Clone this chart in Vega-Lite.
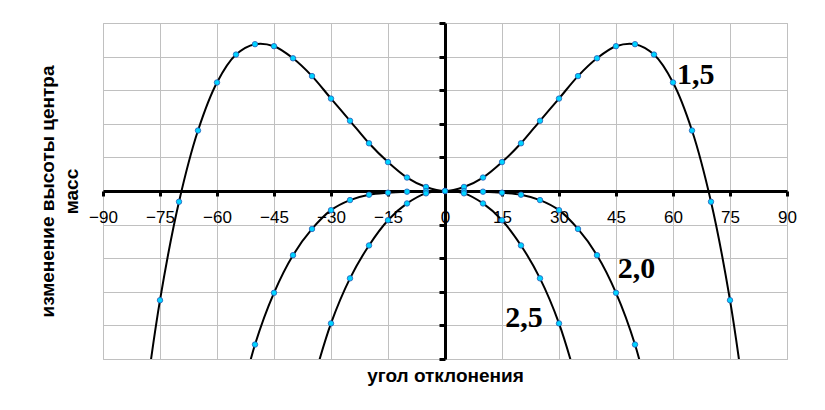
{
  "$schema": "https://vega.github.io/schema/vega-lite/v6.json",
  "width": 684,
  "height": 336,
  "autosize": {"type": "none"},
  "padding": {"left": 103, "top": 23, "right": 38, "bottom": 51},
  "background": "white",
  "config": {
    "view": {"stroke": "#c0c0c0", "strokeWidth": 1},
    "axis": {"gridColor": "#c0c0c0", "gridWidth": 1, "gridOpacity": 1}
  },
  "datasets": {
    "curves": [
      {"angle": -80, "dh": -7.2, "k": "1,5"},
      {"angle": -75, "dh": -3.25, "k": "1,5"},
      {"angle": -70, "dh": -0.32, "k": "1,5"},
      {"angle": -65, "dh": 1.80, "k": "1,5"},
      {"angle": -60, "dh": 3.23, "k": "1,5"},
      {"angle": -55, "dh": 4.06, "k": "1,5"},
      {"angle": -50, "dh": 4.37, "k": "1,5"},
      {"angle": -45, "dh": 4.31, "k": "1,5"},
      {"angle": -40, "dh": 3.95, "k": "1,5"},
      {"angle": -35, "dh": 3.42, "k": "1,5"},
      {"angle": -30, "dh": 2.75, "k": "1,5"},
      {"angle": -25, "dh": 2.09, "k": "1,5"},
      {"angle": -20, "dh": 1.42, "k": "1,5"},
      {"angle": -15, "dh": 0.86, "k": "1,5"},
      {"angle": -10, "dh": 0.40, "k": "1,5"},
      {"angle": -5, "dh": 0.12, "k": "1,5"},
      {"angle": 0, "dh": 0, "k": "1,5"},
      {"angle": 5, "dh": 0.12, "k": "1,5"},
      {"angle": 10, "dh": 0.40, "k": "1,5"},
      {"angle": 15, "dh": 0.86, "k": "1,5"},
      {"angle": 20, "dh": 1.42, "k": "1,5"},
      {"angle": 25, "dh": 2.09, "k": "1,5"},
      {"angle": 30, "dh": 2.75, "k": "1,5"},
      {"angle": 35, "dh": 3.42, "k": "1,5"},
      {"angle": 40, "dh": 3.95, "k": "1,5"},
      {"angle": 45, "dh": 4.31, "k": "1,5"},
      {"angle": 50, "dh": 4.37, "k": "1,5"},
      {"angle": 55, "dh": 4.06, "k": "1,5"},
      {"angle": 60, "dh": 3.23, "k": "1,5"},
      {"angle": 65, "dh": 1.80, "k": "1,5"},
      {"angle": 70, "dh": -0.32, "k": "1,5"},
      {"angle": 75, "dh": -3.25, "k": "1,5"},
      {"angle": 80, "dh": -7.2, "k": "1,5"},
      {"angle": -55, "dh": -6.8, "k": "2,0"},
      {"angle": -50, "dh": -4.57, "k": "2,0"},
      {"angle": -45, "dh": -3.03, "k": "2,0"},
      {"angle": -40, "dh": -1.91, "k": "2,0"},
      {"angle": -35, "dh": -1.13, "k": "2,0"},
      {"angle": -30, "dh": -0.57, "k": "2,0"},
      {"angle": -25, "dh": -0.27, "k": "2,0"},
      {"angle": -20, "dh": -0.11, "k": "2,0"},
      {"angle": -15, "dh": -0.05, "k": "2,0"},
      {"angle": -10, "dh": -0.02, "k": "2,0"},
      {"angle": -5, "dh": -0.005, "k": "2,0"},
      {"angle": 0, "dh": 0, "k": "2,0"},
      {"angle": 5, "dh": -0.005, "k": "2,0"},
      {"angle": 10, "dh": -0.02, "k": "2,0"},
      {"angle": 15, "dh": -0.05, "k": "2,0"},
      {"angle": 20, "dh": -0.11, "k": "2,0"},
      {"angle": 25, "dh": -0.27, "k": "2,0"},
      {"angle": 30, "dh": -0.57, "k": "2,0"},
      {"angle": 35, "dh": -1.13, "k": "2,0"},
      {"angle": 40, "dh": -1.91, "k": "2,0"},
      {"angle": 45, "dh": -3.03, "k": "2,0"},
      {"angle": 50, "dh": -4.57, "k": "2,0"},
      {"angle": 55, "dh": -6.8, "k": "2,0"},
      {"angle": -35, "dh": -5.8, "k": "2,5"},
      {"angle": -30, "dh": -3.94, "k": "2,5"},
      {"angle": -25, "dh": -2.60, "k": "2,5"},
      {"angle": -20, "dh": -1.62, "k": "2,5"},
      {"angle": -15, "dh": -0.87, "k": "2,5"},
      {"angle": -10, "dh": -0.37, "k": "2,5"},
      {"angle": -5, "dh": -0.07, "k": "2,5"},
      {"angle": 0, "dh": 0, "k": "2,5"},
      {"angle": 5, "dh": -0.07, "k": "2,5"},
      {"angle": 10, "dh": -0.37, "k": "2,5"},
      {"angle": 15, "dh": -0.87, "k": "2,5"},
      {"angle": 20, "dh": -1.62, "k": "2,5"},
      {"angle": 25, "dh": -2.60, "k": "2,5"},
      {"angle": 30, "dh": -3.94, "k": "2,5"},
      {"angle": 35, "dh": -5.8, "k": "2,5"}
    ],
    "labels": [
      {"angle": 66, "dh": 3.44, "k": "1,5"},
      {"angle": 50.4, "dh": -2.31, "k": "2,0"},
      {"angle": 20.8, "dh": -3.77, "k": "2,5"}
    ]
  },
  "layer": [
    {
      "data": {"name": "curves"},
      "mark": {"type": "line", "color": "black", "strokeWidth": 2, "interpolate": "catmull-rom", "clip": true},
      "encoding": {
        "x": {
          "field": "angle", "type": "quantitative",
          "scale": {"domain": [-90, 90], "nice": false, "zero": false},
          "axis": {
            "orient": "bottom",
            "values": [-90, -75, -60, -45, -30, -15, 0, 15, 30, 45, 60, 75, 90],
            "grid": true, "labels": false, "ticks": false, "domain": false,
            "title": "угол отклонения",
            "titleFont": "Liberation Sans", "titleFontSize": 19, "titleFontWeight": "bold",
            "titleColor": "black", "titlePadding": 7
          }
        },
        "y": {
          "field": "dh", "type": "quantitative",
          "scale": {"domain": [-5, 5], "nice": false, "zero": false},
          "axis": {
            "orient": "left",
            "values": [-5, -4, -3, -2, -1, 0, 1, 2, 3, 4, 5],
            "grid": true, "labels": false, "ticks": false, "domain": false,
            "title": ["изменение высоты центра", "масс"],
            "titleFont": "Liberation Sans", "titleFontSize": 19, "titleFontWeight": "bold",
            "titleColor": "black", "titlePadding": 22, "titleLineHeight": 23.5
          }
        },
        "detail": {"field": "k"}
      }
    },
    {
      "data": {"name": "curves"},
      "mark": {"type": "point", "filled": true, "fill": "#00d4ff", "stroke": "#2a5cb8", "strokeWidth": 0.8, "size": 30, "opacity": 1, "clip": true},
      "encoding": {
        "x": {
          "field": "angle", "type": "quantitative",
          "axis": {
            "orient": "bottom", "offset": -168,
            "values": [-90, -75, -60, -45, -30, -15, 0, 15, 30, 45, 60, 75, 90],
            "grid": false, "title": null,
            "domain": true, "domainColor": "black", "domainWidth": 3,
            "ticks": true, "tickColor": "black", "tickWidth": 3, "tickSize": 5,
            "labels": true, "labelFont": "Liberation Sans", "labelFontSize": 17,
            "labelColor": "black", "labelPadding": 13, "labelFlush": false, "labelOverlap": false
          }
        },
        "y": {
          "field": "dh", "type": "quantitative",
          "axis": {
            "orient": "left", "offset": -342,
            "values": [-5, -4, -3, -2, -1, 0, 1, 2, 3, 4, 5],
            "grid": false, "title": null, "labels": false,
            "domain": true, "domainColor": "black", "domainWidth": 3,
            "ticks": true, "tickColor": "black", "tickWidth": 3, "tickSize": 6
          }
        }
      }
    },
    {
      "data": {"name": "labels"},
      "mark": {"type": "text", "font": "Liberation Serif", "fontWeight": "bold", "fontSize": 30, "color": "black", "align": "center", "baseline": "middle"},
      "encoding": {
        "x": {"field": "angle", "type": "quantitative", "axis": null},
        "y": {"field": "dh", "type": "quantitative", "axis": null},
        "text": {"field": "k"}
      }
    }
  ],
  "resolve": {"axis": {"x": "independent", "y": "independent"}}
}
